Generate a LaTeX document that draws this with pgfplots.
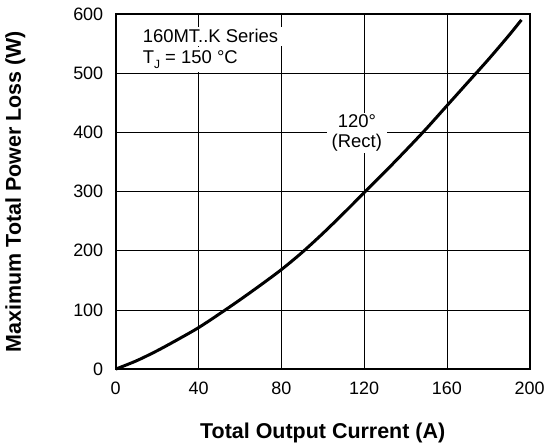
\documentclass[border=0pt]{standalone}
\usepackage{pgfplots}
\pgfplotsset{compat=1.18}
\usepackage{fontspec}
\setmainfont{Liberation Sans}
\begin{document}
\begin{tikzpicture}
\begin{axis}[
  scale only axis,
  width=415bp, height=356bp,
  at={(0,0)}, anchor=south west,
  xmin=0, xmax=200, ymin=0, ymax=600,
  xtick={0,40,...,200}, ytick={0,100,...,600},
  grid=major,
  grid style={black, line width=0.8bp},
  major tick length=0pt,
  axis line style={black, line width=2.4bp},
  /pgf/number format/assume math mode=true,
  ticklabel style={font=\fontsize{18bp}{20bp}\selectfont},
  xticklabel style={yshift=-9bp},
  yticklabel style={xshift=-9bp},
  xlabel={Total Output Current (A)},
  ylabel={Maximum Total Power Loss (W)},
  label style={font=\fontsize{21.5bp}{23bp}\selectfont\bfseries},
  xlabel style={at={(axis description cs:0.5,-0.1966)}, anchor=base},
  ylabel style={at={(axis description cs:-0.229,0.5)}, anchor=base},
  clip=false,
]
\addplot[black, line width=3bp, smooth] coordinates {
(0,0) (10,14) (20,31) (30,50) (40,70) (50,93) (60,117) (70,142) (80,168)
(90,197) (100,229) (110,263) (120,298) (130,333) (140,369) (150,406)
(160,445) (170,484) (180,523) (190,564) (196,590)
};
\node[anchor=base west, fill=white, inner xsep=4bp, inner ysep=3bp, xshift=-4bp, font=\fontsize{18.5bp}{20bp}\selectfont] at (axis cs:13,551) {160MT..K Series};
\node[anchor=base west, fill=white, inner xsep=4bp, inner ysep=3bp, xshift=-4bp, font=\fontsize{18.5bp}{20bp}\selectfont] at (axis cs:13,517) {T\raisebox{-0.28em}{\fontsize{12bp}{12bp}\selectfont J} = 150 °C\rule[-6bp]{0pt}{1bp}};
\node[fill=white, align=center, inner xsep=5bp, inner ysep=1.5bp, font=\fontsize{18.5bp}{20bp}\selectfont] at (axis cs:116.5,399) {120°\\(Rect)};
\end{axis}
\path[use as bounding box] (-116bp,-75bp) rectangle (432bp,370bp);
\end{tikzpicture}
\end{document}
